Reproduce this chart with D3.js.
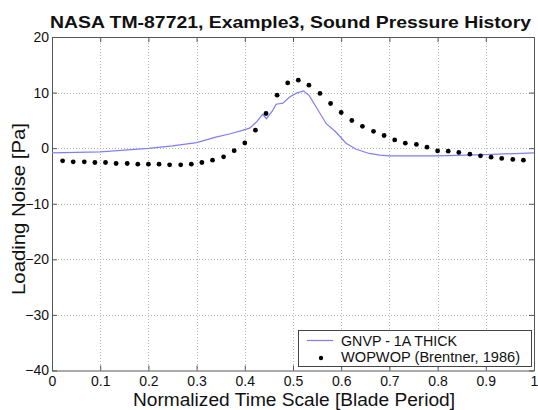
<!DOCTYPE html>
<html><head><meta charset="utf-8">
<script src="https://cdn.jsdelivr.net/npm/d3@7"></script>
<style>body{margin:0;background:#fff}svg{display:block}text{font-family:Arial,"Liberation Sans",sans-serif;fill:#111}</style>
</head><body><svg id="c" width="538" height="410"></svg>
<script>
const title = "NASA TM-87721, Example3, Sound Pressure History";
const xLabel = "Normalized Time Scale [Blade Period]";
const yLabel = "Loading Noise [Pa]";
const xTicks = [0,0.1,0.2,0.3,0.4,0.5,0.6,0.7,0.8,0.9,1];
const yTicks = [20,10,0,-10,-20,-30,-40];
const seriesNames = ["GNVP - 1A THICK","WOPWOP (Brentner, 1986)"];
// GNVP line
const gnvpX = [0,0.1,0.2,0.25,0.3,0.34,0.37,0.395,0.41,0.424,0.437,0.445,0.458,0.465,0.479,0.493,0.507,0.522,0.534,0.548,0.569,0.589,0.61,0.631,0.658,0.68,0.7,0.8,0.84,0.9,1.0];
const gnvpY = [-0.85,-0.67,-0.05,0.4,1.0,2.0,2.6,3.2,3.6,4.7,6.1,5.3,6.8,7.9,8.1,9.2,9.9,10.3,9.4,7.4,4.4,2.9,0.9,-0.2,-0.95,-1.25,-1.38,-1.38,-1.3,-1.15,-0.85];
// WOPWOP points
const wopX = [0.022,0.044,0.067,0.089,0.111,0.133,0.156,0.178,0.2,0.222,0.244,0.267,0.289,0.311,0.333,0.356,0.378,0.4,0.422,0.444,0.467,0.489,0.511,0.533,0.556,0.578,0.6,0.622,0.644,0.667,0.689,0.711,0.733,0.756,0.778,0.8,0.822,0.844,0.867,0.889,0.911,0.933,0.956,0.978];
const wopY = [-2.28,-2.46,-2.46,-2.58,-2.58,-2.76,-2.76,-2.88,-2.88,-2.88,-3.0,-3.0,-2.88,-2.58,-2.16,-1.56,-0.45,0.95,3.24,6.24,9.53,11.74,12.23,11.33,9.84,8.04,6.42,4.98,3.93,3.03,2.28,1.49,0.9,0.67,0.18,-0.49,-0.54,-0.77,-1.08,-1.38,-1.62,-1.85,-2.03,-2.16];

const L=52,R=534,T=37,B=370.5;
const svg=d3.select("#c");
const x=d3.scaleLinear().domain([0,1]).range([L,R]);
const y=d3.scaleLinear().domain([-40,20]).range([B,T]);
svg.append("rect").attr("x",L).attr("y",T).attr("width",R-L).attr("height",B-T).attr("fill","#fff");
// grid
const g=svg.append("g").attr("stroke","#b8b8b8").attr("stroke-dasharray","1,2").attr("stroke-width",1);
xTicks.slice(1,-1).forEach(v=>g.append("line").attr("x1",Math.round(x(v))+0.5).attr("x2",Math.round(x(v))+0.5).attr("y1",T).attr("y2",B));
yTicks.slice(1,-1).forEach(v=>g.append("line").attr("y1",Math.round(y(v))+0.5).attr("y2",Math.round(y(v))+0.5).attr("x1",L).attr("x2",R));
// axes
const xa=svg.append("g").attr("transform",`translate(0,${B})`).call(d3.axisBottom(x).tickValues(xTicks).tickFormat(d=>d3.format("")(d)).tickSizeInner(-5).tickSizeOuter(0).tickPadding(4));
const xt=svg.append("g").attr("transform",`translate(0,${T})`).call(d3.axisTop(x).tickValues(xTicks).tickFormat("").tickSizeInner(-5).tickSizeOuter(0));
const ya=svg.append("g").attr("transform",`translate(${L},0)`).call(d3.axisLeft(y).tickValues(yTicks).tickSizeInner(-5).tickSizeOuter(0).tickPadding(3));
const yr=svg.append("g").attr("transform",`translate(${R},0)`).call(d3.axisRight(y).tickValues(yTicks).tickFormat("").tickSizeInner(-5).tickSizeOuter(0));
[xa,xt,ya,yr].forEach(a=>{a.selectAll("path,line").attr("stroke","#555");a.selectAll("text").attr("font-size",14).attr("fill","#222").attr("font-family","Arial, 'Liberation Sans', sans-serif");});
xa.selectAll("text").attr("dy","0.85em");
// line
const line=d3.line().x((d,i)=>x(gnvpX[i])).y(d=>y(d));
svg.append("path").datum(gnvpY).attr("d",line).attr("fill","none").attr("stroke","#7f7ff5").attr("stroke-width",1.2);
// dots
svg.append("g").selectAll("circle").data(wopY).join("circle").attr("cx",(d,i)=>x(wopX[i])).attr("cy",d=>y(d)).attr("r",2.4).attr("fill","#000");
// legend
const lg=svg.append("g");
lg.append("rect").attr("x",298.5).attr("y",330.5).attr("width",233).attr("height",36).attr("fill","#fff").attr("stroke","#444");
lg.append("line").attr("x1",307).attr("x2",333).attr("y1",340.5).attr("y2",340.5).attr("stroke","#7f7ff5").attr("stroke-width",1.2);
lg.append("circle").attr("cx",321).attr("cy",358).attr("r",2.2).attr("fill","#000");
lg.append("text").attr("x",341).attr("y",345.5).attr("font-size",14).attr("textLength",116).attr("lengthAdjust","spacingAndGlyphs").text(seriesNames[0]);
lg.append("text").attr("x",341).attr("y",362).attr("font-size",14.5).attr("textLength",179).attr("lengthAdjust","spacingAndGlyphs").text(seriesNames[1]);
// titles
svg.append("text").attr("x",50).attr("y",27.5).attr("font-size",17).attr("font-weight","bold").attr("textLength",481).attr("lengthAdjust","spacingAndGlyphs").text(title);
svg.append("text").attr("x",133).attr("y",406).attr("font-size",17.5).attr("textLength",322).attr("lengthAdjust","spacingAndGlyphs").text(xLabel);
svg.append("text").attr("transform","translate(25,295) rotate(-90)").attr("font-size",18).attr("textLength",172).attr("lengthAdjust","spacingAndGlyphs").text(yLabel);
</script></body></html>
